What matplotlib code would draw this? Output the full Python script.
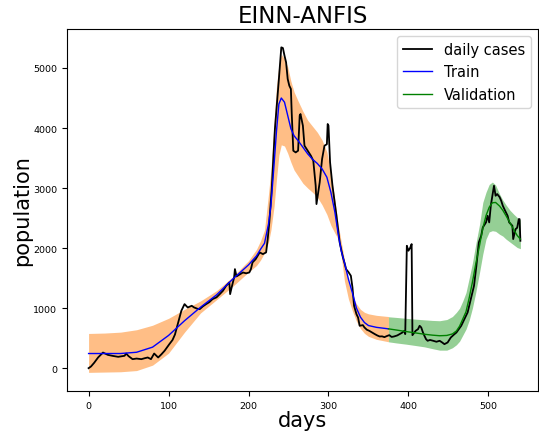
import matplotlib
matplotlib.use('Agg')
import matplotlib.pyplot as plt

# daily cases (observed)
case_days = [0, 3, 7, 12, 18, 24, 30, 37, 42, 45, 47, 50, 55, 60, 66, 70, 74, 78, 82, 87,
             91, 95, 101, 105, 108, 112, 116, 120, 124, 129, 132, 136, 139, 143, 147, 151,
             155, 160, 164, 168, 172, 176, 177, 179, 182, 183, 185, 189, 193, 197, 201,
             203, 205, 209, 214, 218, 222, 224, 226, 229, 233, 238, 241, 243, 245, 247,
             249, 251, 253, 254, 256, 259, 262, 264, 265, 268, 270, 274, 278, 281, 284,
             285, 289, 292, 295, 298, 299, 300, 302, 305, 310, 314, 318, 321, 322, 325,
             328, 330, 332, 335, 337, 339, 343, 345, 348, 351, 355, 358, 361, 364, 367,
             370, 373, 376, 379, 382, 386, 389, 392, 395, 396, 398, 400, 402, 404, 405,
             409, 412, 414, 416, 418, 420, 422, 424, 427, 431, 435, 439, 442, 445, 449,
             453, 457, 460, 463, 466, 470, 472, 474, 476, 478, 480, 482, 485, 488, 491,
             493, 497, 499, 501, 503, 505, 507, 509, 511, 514, 516, 518, 521, 524, 526,
             528, 530, 531, 534, 536, 538, 539, 540]
cases = [0, 28, 90, 180, 260, 222, 205, 189, 200, 206, 244, 200, 150, 160, 150, 165, 178,
         150, 244, 178, 230, 289, 400, 470, 560, 761, 956, 1067, 1011, 1039, 1011, 990,
         983, 1030, 1067, 1100, 1150, 1180, 1233, 1289, 1372, 1428, 1233, 1350, 1511,
         1650, 1528, 1560, 1594, 1580, 1594, 1650, 1761, 1817, 1928, 1900, 1928, 2150,
         2428, 2983, 3983, 4817, 5344, 5333, 5206, 5094, 4817, 4706, 4650, 4261, 3622,
         3594, 3622, 4206, 4233, 4039, 3706, 3622, 3539, 3456, 3039, 2733, 3094, 3483,
         3706, 3730, 4067, 4040, 3428, 3039, 2539, 2094, 1850, 1706, 1650, 1600, 1539,
         1344, 1039, 900, 844, 706, 717, 678, 640, 622, 590, 567, 545, 528, 530, 517,
         535, 550, 520, 528, 545, 567, 590, 622, 567, 2039, 1956, 2000, 2067, 550, 622,
         650, 706, 678, 600, 539, 483, 456, 470, 456, 440, 456, 430, 400, 428, 511, 560,
         594, 650, 706, 817, 872, 928, 1039, 1150, 1261, 1372, 1706, 2094, 2206, 2344,
         2428, 2539, 2428, 2706, 2872, 3039, 2872, 2900, 2850, 2789, 2706, 2620, 2539,
         2428, 2400, 2372, 2150, 2317, 2339, 2483, 2483, 2122]

# training fit with band
train_days = [0, 20, 40, 60, 80, 100, 120, 140, 160, 180, 200, 210, 215, 220, 225, 228,
              232, 235, 238, 241, 245, 249, 253, 257, 262, 268, 274, 280, 286, 292, 298,
              303, 308, 312, 316, 320, 325, 330, 335, 340, 345, 350, 360, 375]
train = [244, 244, 244, 265, 350, 545, 790, 1015, 1220, 1480, 1720, 1870, 1980, 2080,
         2400, 2700, 3400, 3950, 4400, 4500, 4430, 4210, 3990, 3870, 3790, 3680, 3570,
         3480, 3410, 3320, 3180, 2930, 2600, 2250, 1950, 1760, 1480, 1250, 1000, 850,
         760, 710, 680, 655]
train_upper = [578, 585, 600, 640, 715, 830, 980, 1120, 1290, 1520, 1790, 1980, 2120,
               2300, 2900, 3300, 4100, 4700, 5050, 5230, 5150, 5020, 4780, 4600, 4450,
               4280, 4130, 4030, 3930, 3800, 3600, 3250, 2800, 2400, 2100, 1800, 1420,
               1200, 1070, 980, 930, 905, 880, 860]
train_lower = [-70, -65, -60, -40, 50, 250, 600, 920, 1140, 1360, 1600, 1710, 1800, 1920,
               2100, 2300, 2700, 3150, 3550, 3720, 3700, 3580, 3430, 3300, 3200, 3080,
               3000, 2930, 2850, 2720, 2560, 2380, 2250, 2150, 1870, 1450, 1150, 950,
               780, 660, 580, 530, 480, 440]

# validation fit with band
val_days = [375, 385, 397, 410, 420, 430, 439, 448, 455, 460, 464, 468, 472, 476, 480,
            484, 489, 493, 497, 501, 505, 509, 514, 518, 522, 527, 532, 536, 540]
val = [655, 635, 610, 585, 565, 550, 540, 545, 570, 620, 700, 820, 940, 1170, 1430,
       1720, 2050, 2330, 2540, 2680, 2755, 2760, 2700, 2630, 2540, 2420, 2300, 2210, 2150]
val_upper = [856, 845, 830, 815, 805, 795, 790, 810, 860, 930, 1000, 1120, 1260, 1500,
             1750, 2050, 2400, 2760, 2930, 3060, 3100, 3050, 2900, 2800, 2720, 2630, 2560,
             2510, 2470]
val_lower = [439, 420, 400, 375, 355, 325, 300, 300, 340, 390, 450, 550, 650, 800, 1000,
             1250, 1600, 1900, 2150, 2270, 2290, 2280, 2230, 2200, 2150, 2100, 2050, 2010,
             1990]

fig = plt.figure(figsize=(5.39, 4.35), dpi=100)
ax = fig.add_axes([0.1243, 0.0989, 0.8738, 0.8322])

ax.fill_between(train_days, train_lower, train_upper, color='C1', alpha=0.5, linewidth=0)
ax.fill_between(val_days, val_lower, val_upper, color='C2', alpha=0.5, linewidth=0)
ax.plot(case_days, cases, color='k', linewidth=1.3, label='daily cases')
ax.plot(train_days, train, color='b', linewidth=1.0, label='Train')
ax.plot(val_days, val, color='g', linewidth=1.0, label='Validation')

ax.set_xlim(-27, 562)
ax.set_ylim(-380, 5650)
ax.tick_params(labelsize=6.8)
ax.set_title('EINN-ANFIS', fontsize=16.5, pad=5)
ax.set_xlabel('days', fontsize=15, labelpad=0)
ax.set_ylabel('population', fontsize=15, labelpad=1)
ax.legend(loc='upper right', fontsize=10.5)

fig.savefig('out.png', dpi=100)
